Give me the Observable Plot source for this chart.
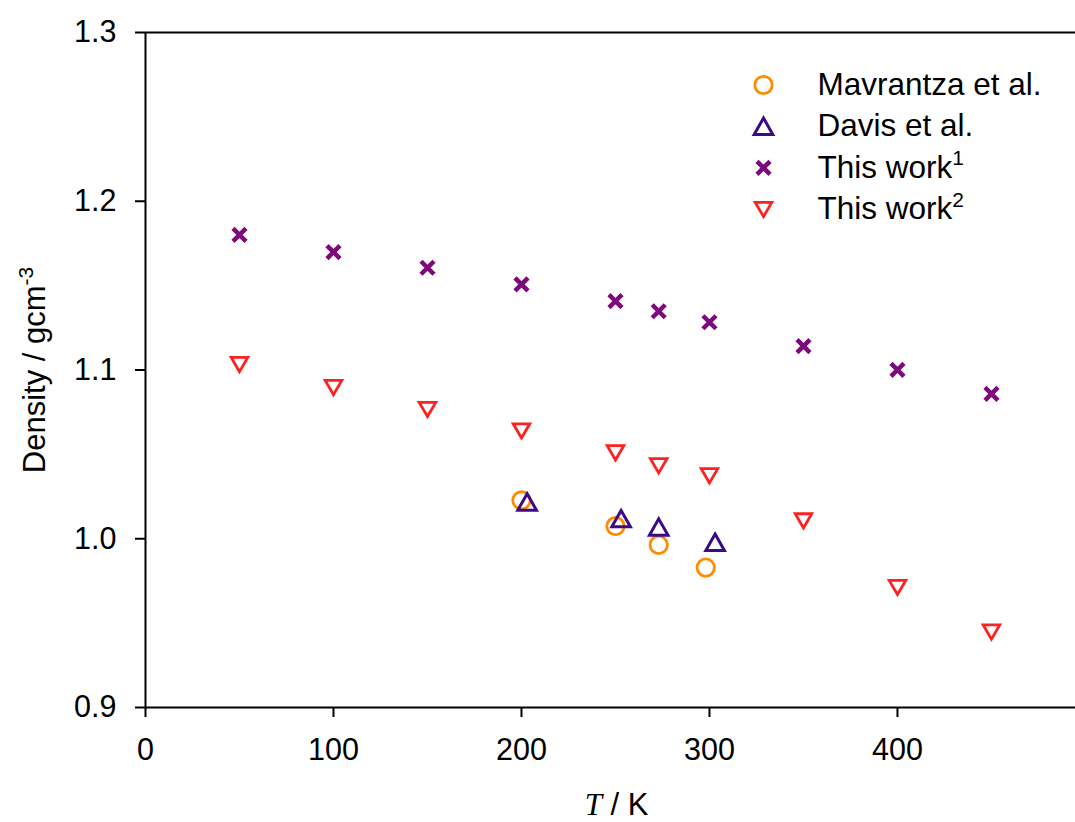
<!DOCTYPE html>
<html>
<head>
<meta charset="utf-8">
<script src="https://cdn.jsdelivr.net/npm/d3@7"></script>
<script src="https://cdn.jsdelivr.net/npm/@observablehq/plot@0.6"></script>
<style>
  html, body { margin: 0; padding: 0; background: #fff; }
</style>
</head>
<body>
<div id="chart"></div>
<script>
// ---- data ----
const mavT = [200, 250, 273, 298];
const mavRho = [1.0227, 1.0075, 0.9964, 0.9829];

const davisT = [203, 253, 273, 303];
const davisRho = [1.0217, 1.0118, 1.0068, 0.9978];

const work1T = [50, 100, 150, 200, 250, 273, 300, 350, 400, 450];
const work1Rho = [1.1801, 1.1699, 1.1606, 1.1507, 1.1408, 1.1348, 1.1283, 1.1141, 1.1001, 1.0859];

const work2T = [50, 100, 150, 200, 250, 273, 300, 350, 400, 450];
const work2Rho = [1.1034, 1.0898, 1.0768, 1.0641, 1.0511, 1.0434, 1.0375, 1.0108, 0.9713, 0.9449];

const legendLabels = ["Mavrantza et al.", "Davis et al.", "This work", "This work"];
const legendSup = ["", "", "1", "2"];

const xTicks = [0, 100, 200, 300, 400];
const yTicks = [0.9, 1.0, 1.1, 1.2, 1.3];

// ---- styles ----
const colors = ["#ff8c00", "#3d0a85", "#7c0a7c", "#ff2020"];
const symbols = [
  { draw(c) { c.moveTo(8.7, 0); c.arc(0, 0, 8.7, 0, 2 * Math.PI); c.closePath(); } },
  { draw(c) { c.moveTo(0, -8.4); c.lineTo(9.3, 8.0); c.lineTo(-9.3, 8.0); c.closePath(); } },
  { draw(c) { c.moveTo(-6.5, -6.5); c.lineTo(6.5, 6.5); c.moveTo(6.5, -6.5); c.lineTo(-6.5, 6.5); } },
  { draw(c) { c.moveTo(0, 7.4); c.lineTo(8.3, -6.8); c.lineTo(-8.3, -6.8); c.closePath(); } }
];
const strokeWidths = [2.8, 3, 4.5, 2.8];

const series = [
  { T: mavT, rho: mavRho },
  { T: davisT, rho: davisRho },
  { T: work1T, rho: work1Rho },
  { T: work2T, rho: work2Rho }
];

const dotMarks = series.map((s, i) =>
  Plot.dot(s.T.map((t, j) => ({ T: t, rho: s.rho[j] })), {
    x: "T", y: "rho", r: 8,
    symbol: symbols[i], stroke: colors[i], fill: "none",
    strokeWidth: strokeWidths[i], strokeLinecap: "butt"
  })
);

const legendMarks = [];
legendLabels.forEach((lab, i) => {
  legendMarks.push(Plot.dot([0], {
    frameAnchor: "top-right", dx: -312, dy: 52.5 + i * 41.4, r: 8,
    symbol: symbols[i], stroke: colors[i], fill: "none", strokeWidth: strokeWidths[i]
  }));
  legendMarks.push(Plot.text([lab], {
    frameAnchor: "top-right", dx: -258, dy: 52.5 + i * 41.4,
    text: d => d, textAnchor: "start", lineAnchor: "middle", fill: "#000", fontSize: 31.5
  }));
});

const chart = Plot.plot({
  width: 1075,
  height: 822,
  marginLeft: 145,
  marginRight: 0,
  marginTop: 32,
  marginBottom: 115,
  style: { fontFamily: "'Liberation Sans', Arial, sans-serif", fontSize: "30.5px", color: "#000", background: "#fff" },
  x: { domain: [0, 494.7] },
  y: { domain: [0.9, 1.3] },
  marks: [
    Plot.axisX({ ticks: xTicks, tickFormat: d => String(d), tickSize: 10, tickPadding: 21, strokeWidth: 2, label: null }),
    Plot.axisY({ ticks: yTicks, tickFormat: d3.format(".1f"), tickSize: 10, tickPadding: 19, strokeWidth: 2, label: null }),
    Plot.ruleX([0], { strokeWidth: 2, stroke: "#000" }),
    Plot.ruleY([0.9, 1.3], { strokeWidth: 2, stroke: "#000" }),
    ...dotMarks,
    ...legendMarks,
    Plot.text(["Density / gcm"], { frameAnchor: "left", dx: -110, rotate: -90, text: d => d, lineAnchor: "middle", textAnchor: "middle", fill: "#000", fontSize: 31 }),
    Plot.text(["T / K"], { frameAnchor: "bottom", dx: 6, dy: 98, text: d => d, lineAnchor: "middle", textAnchor: "middle", fill: "#000", fontSize: 31 })
  ]
});

document.getElementById("chart").appendChild(chart);

// ---- text post-processing: superscripts and italic symbol ----
const svg = d3.select(chart);
svg.selectAll("text").filter(function () { return this.textContent === "Density / gcm"; })
  .append("tspan").attr("dy", "-0.6em").attr("font-size", "21px").text("-3");

let k = 0;
const supWork = legendSup.filter(s => s);
svg.selectAll("text").filter(function () { return this.textContent === "This work"; })
  .each(function () {
    d3.select(this).append("tspan").attr("dy", "-0.6em").attr("font-size", "21px").text(supWork[k++]);
  });

svg.selectAll("text").filter(function () { return this.textContent === "T / K"; })
  .each(function () {
    const t = d3.select(this);
    t.text(null);
    t.append("tspan").attr("font-family", "'Liberation Serif', 'Times New Roman', serif").attr("font-style", "italic").text("T");
    t.append("tspan").text(" / K");
  });
</script>
</body>
</html>
